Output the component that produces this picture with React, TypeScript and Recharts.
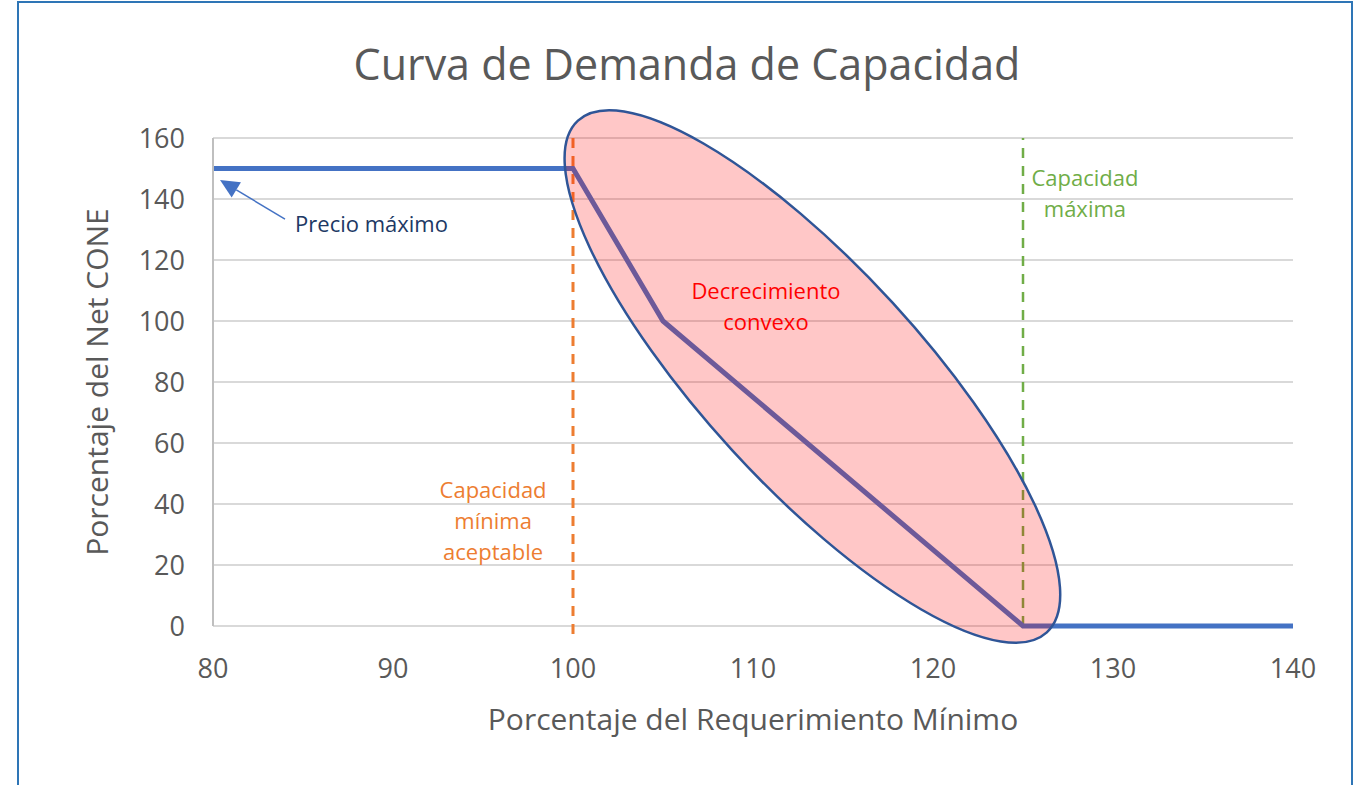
import React from 'react';
import {
  LineChart,
  Line,
  XAxis,
  YAxis,
  CartesianGrid,
  ReferenceLine,
  ReferenceDot,
} from 'recharts';

// curve: % of minimum requirement -> % of Net CONE
const capacityPct = [80, 100, 105, 125, 140];
const netConePct = [150, 150, 100, 0, 0];

const xTicks = [80, 90, 100, 110, 120, 130, 140];
const yTicks = [0, 20, 40, 60, 80, 100, 120, 140, 160];

const minAcceptable = 100;
const maxCapacity = 125;

// arrow "Precio máximo": tail -> tip
const arrowTail = { x: 84.0, y: 133.4 };
const arrowTip = { x: 80.39, y: 146.2 };

// highlighted region centre
const ellipseCenter = { x: 113.3, y: 81.8 };

const annotations = [
  { x: 84.56, y: 132.1, lines: ['Precio máximo'], color: '#203864', anchor: 'start' },
  { x: 110.72, y: 110.2, lines: ['Decrecimiento', 'convexo'], color: '#FF0000', anchor: 'middle' },
  { x: 95.56, y: 44.9, lines: ['Capacidad', 'mínima', 'aceptable'], color: '#ED7D31', anchor: 'middle' },
  { x: 128.44, y: 147.2, lines: ['Capacidad', 'máxima'], color: '#70AD47', anchor: 'middle' },
];

const data = capacityPct.map((x, i) => ({ x, y: netConePct[i] }));

const FONT = '"Open Sans", sans-serif';
const GRAY = '#595959';

const Arrow = (props: any) => {
  const { x1, y1, x2, y2 } = props;
  const dx = x2 - x1;
  const dy = y2 - y1;
  const len = Math.sqrt(dx * dx + dy * dy);
  const ux = dx / len;
  const uy = dy / len;
  const headLen = 19;
  const headW = 9;
  const bx = x2 - ux * headLen;
  const by = y2 - uy * headLen;
  return (
    <g>
      <line x1={x1} y1={y1} x2={bx} y2={by} stroke="#4472C4" strokeWidth={1.5} />
      <polygon
        points={`${x2},${y2} ${bx - uy * headW},${by + ux * headW} ${bx + uy * headW},${by - ux * headW}`}
        fill="#4472C4"
      />
    </g>
  );
};

const Ellipse = (props: any) => {
  const { cx, cy } = props;
  return (
    <ellipse
      cx={cx}
      cy={cy}
      rx={347}
      ry={109}
      transform={`rotate(47.5 ${cx} ${cy})`}
      fill="#FF0000"
      fillOpacity={0.22}
      stroke="#2F5597"
      strokeWidth={2.5}
    />
  );
};

const makeNote = (lines: string[], color: string, anchor: string) => (props: any) => {
  const { cx, cy } = props;
  return (
    <text
      x={cx}
      y={cy}
      fill={color}
      fontSize={22}
      fontFamily={FONT}
      textAnchor={anchor}
      dominantBaseline="central"
    >
      {lines.map((l, i) => (
        <tspan key={i} x={cx} dy={i === 0 ? 0 : 31}>
          {l}
        </tspan>
      ))}
    </text>
  );
};

export default function App() {
  return (
    <div
      style={{
        position: 'absolute',
        left: 0,
        top: 0,
        width: 1362,
        height: 785,
        overflow: 'hidden',
        background: '#fff',
      }}
    >
      <div
        style={{
          position: 'absolute',
          left: 17,
          top: 1,
          width: 1336,
          height: 830,
          border: '2px solid #2E75B6',
          boxSizing: 'border-box',
        }}
      />
      <svg width={1362} height={110} style={{ position: 'absolute', left: 0, top: 0 }}>
        <text x={687} y={80} textAnchor="middle" fill={GRAY} fontSize={43} fontFamily={FONT}>
          Curva de Demanda de Capacidad
        </text>
      </svg>
      <div style={{ position: 'absolute', left: 0, top: 0 }}>
        <LineChart
          width={1362}
          height={785}
          data={data}
          margin={{ top: 138, right: 69, bottom: 49, left: 83 }}
          style={{ fontFamily: FONT }}
        >
          <CartesianGrid vertical={false} stroke="#D9D9D9" strokeWidth={2} />
          <XAxis
            dataKey="x"
            type="number"
            domain={[80, 140]}
            ticks={xTicks}
            height={110}
            tickLine={false}
            tickSize={0}
            tickMargin={33}
            axisLine={false}
            tick={{ fill: GRAY, fontSize: 27 }}
            label={{
              value: 'Porcentaje del Requerimiento Mínimo',
              position: 'insideBottom',
              offset: 6,
              fill: GRAY,
              fontSize: 30,
            }}
          />
          <YAxis
            type="number"
            domain={[0, 160]}
            ticks={yTicks}
            width={130}
            tickLine={false}
            tickSize={0}
            tickMargin={28}
            axisLine={{ stroke: '#BFBFBF', strokeWidth: 2 }}
            tick={{ fill: GRAY, fontSize: 27 }}
            label={{
              value: 'Porcentaje del Net CONE',
              angle: -90,
              position: 'insideLeft',
              offset: 14,
              fill: GRAY,
              fontSize: 30,
              style: { textAnchor: 'middle' },
            }}
          />
          <ReferenceLine
            segment={[
              { x: minAcceptable, y: 160 },
              { x: minAcceptable, y: -3.3 },
            ]}
            ifOverflow="visible"
            stroke="#ED7D31"
            strokeWidth={3}
            strokeDasharray="10 8"
          />
          <ReferenceLine
            x={maxCapacity}
            stroke="#70AD47"
            strokeWidth={2.5}
            strokeDasharray="10 8"
          />
          <Line
            type="linear"
            dataKey="y"
            stroke="#4472C4"
            strokeWidth={5}
            dot={false}
            isAnimationActive={false}
          />
          <ReferenceDot
            x={ellipseCenter.x}
            y={ellipseCenter.y}
            r={0}
            ifOverflow="visible"
            shape={Ellipse}
          />
          <ReferenceLine
            segment={[arrowTail, arrowTip]}
            ifOverflow="visible"
            shape={Arrow}
          />
          {annotations.map((a, i) => (
            <ReferenceDot
              key={i}
              x={a.x}
              y={a.y}
              r={0}
              ifOverflow="visible"
              shape={makeNote(a.lines, a.color, a.anchor)}
            />
          ))}
        </LineChart>
      </div>
    </div>
  );
}
